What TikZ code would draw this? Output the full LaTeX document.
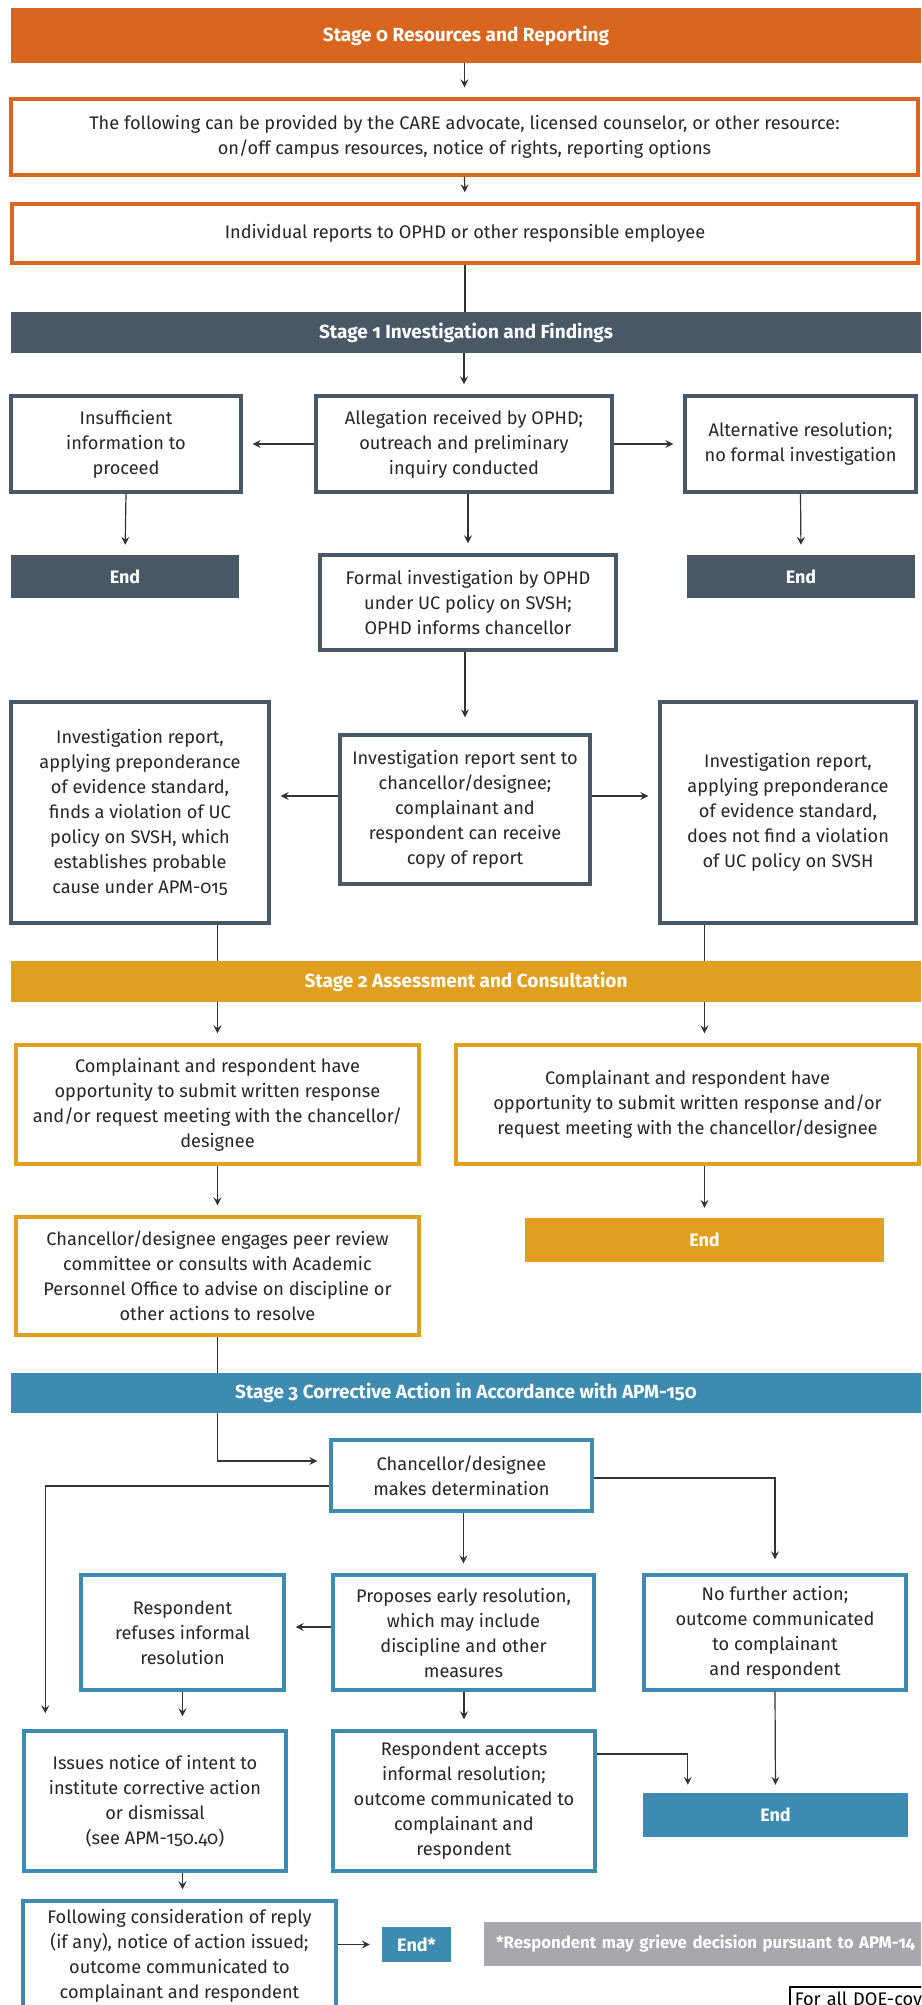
\documentclass[tikz,border=0pt]{standalone}
\usepackage{fontspec}
\setmainfont{Fira Sans}[Numbers=OldStyle]
\usetikzlibrary{arrows.meta,calc}
\definecolor{ucorange}{HTML}{D9661F}
\definecolor{ucslate}{HTML}{485866}
\definecolor{ucgold}{HTML}{E09F1E}
\definecolor{ucteal}{HTML}{3D8BB0}
\definecolor{ucgray}{HTML}{A7A8AC}
\begin{document}
\begin{tikzpicture}[x=1pt,y=-1pt,
	stagebar/.style={fill=#1,text=white,inner sep=0pt,minimum width=910pt,
		font=\bfseries\fontsize{19}{22}\selectfont},
	flowbox/.style={draw=#1,line width=3.4pt,fill=white,align=center,inner sep=3pt,
		font=\fontsize{18.2}{25}\selectfont,text=black!85},
	endbox/.style={fill=#1,text=white,inner sep=0pt,font=\bfseries\fontsize{18}{20}\selectfont},
	conn/.style={line width=1.2pt,draw=black!80},
	arr/.style={conn,-{Stealth[length=8pt,width=8pt,inset=3pt]},shorten >=10pt}]
	\useasboundingbox (0,0) rectangle (921,2005);
	\clip (0,0) rectangle (921,2005);
	% stage 0
	\node[stagebar=ucorange,minimum height=55pt] (stage0) at (466,35.5) {Stage 0 Resources and Reporting};
	\node[flowbox=ucorange,minimum width=907pt,minimum height=76pt] (care) at (464.5,137)
		{The following can be provided by the CARE advocate, licensed counselor, or other resource:\\on/off campus resources, notice of rights, reporting options};
	\node[flowbox=ucorange,minimum width=906pt,minimum height=59pt] (report) at (465,233.5)
		{Individual reports to OPHD or other responsible employee};
	% stage 1
	\node[stagebar=ucslate,minimum height=41pt] (stage1) at (466,332.5) {Stage 1 Investigation and Findings};
	\node[flowbox=ucslate,minimum width=230pt,minimum height=96pt] (insuff) at (126,444)
		{Insufficient\\information to\\proceed};
	\node[flowbox=ucslate,minimum width=296pt,minimum height=96pt] (alleg) at (464,444)
		{Allegation received by OPHD;\\outreach and preliminary\\inquiry conducted};
	\node[flowbox=ucslate,minimum width=231pt,minimum height=96pt] (altres) at (800.5,444)
		{Alternative resolution;\\no formal investigation};
	\node[endbox=ucslate,minimum width=228pt,minimum height=43pt] (endA) at (125,576.5) {End};
	\node[flowbox=ucslate,minimum width=296pt,minimum height=95pt] (formal) at (468,602.5)
		{Formal investigation by OPHD\\under UC policy on SVSH;\\OPHD informs chancellor};
	\node[endbox=ucslate,minimum width=228pt,minimum height=43pt] (endB) at (801,576.5) {End};
	\node[flowbox=ucslate,minimum width=258pt,minimum height=221pt] (findsv) at (140,812.5)
		{Investigation report,\\applying preponderance\\of evidence standard,\\finds a violation of UC\\policy on SVSH, which\\establishes probable\\cause under APM-015};
	\node[flowbox=ucslate,minimum width=250pt,minimum height=149pt] (sent) at (465,809.5)
		{Investigation report sent to\\chancellor/designee;\\complainant and\\respondent can receive\\copy of report};
	\node[flowbox=ucslate,minimum width=256pt,minimum height=221pt] (nofind) at (788,812.5)
		{Investigation report,\\applying preponderance\\of evidence standard,\\does not find a violation\\of UC policy on SVSH};
	% stage 2
	\node[stagebar=ucgold,minimum height=41pt] (stage2) at (466,981.5) {Stage 2 Assessment and Consultation};
	\node[flowbox=ucgold,minimum width=403pt,minimum height=119pt] (respL) at (217.5,1104.5)
		{Complainant and respondent have\\opportunity to submit written response\\and/or request meeting with the chancellor/\\designee};
	\node[flowbox=ucgold,minimum width=463pt,minimum height=119pt] (respR) at (687.5,1104.5)
		{Complainant and respondent have\\opportunity to submit written response and/or\\request meeting with the chancellor/designee};
	\node[flowbox=ucgold,minimum width=403pt,minimum height=118pt] (engage) at (217.5,1276)
		{Chancellor/designee engages peer review\\committee or consults with Academic\\Personnel Office to advise on discipline or\\other actions to resolve};
	\node[endbox=ucgold,minimum width=359pt,minimum height=44pt] (endC) at (704.5,1240) {End};
	% stage 3
	\node[stagebar=ucteal,minimum height=40pt] (stage3) at (466,1393) {Stage 3 Corrective Action in Accordance with APM-150};
	\node[flowbox=ucteal,minimum width=261pt,minimum height=71pt] (determ) at (461.5,1475.5)
		{Chancellor/designee\\makes determination};
	\node[flowbox=ucteal,minimum width=203pt,minimum height=115pt] (refuses) at (182.5,1632.5)
		{Respondent\\refuses informal\\resolution};
	\node[flowbox=ucteal,minimum width=261pt,minimum height=115pt] (proposes) at (463.5,1632.5)
		{Proposes early resolution,\\which may include\\discipline and other\\measures};
	\node[flowbox=ucteal,minimum width=262pt,minimum height=115pt] (nofurther) at (775,1632.5)
		{No further action;\\outcome communicated\\to complainant\\and respondent};
	\node[flowbox=ucteal,minimum width=262pt,minimum height=140pt] (notice) at (155,1801)
		{Issues notice of intent to\\institute corrective action\\or dismissal\\(see APM-150.40)};
	\node[flowbox=ucteal,minimum width=262pt,minimum height=140pt] (accepts) at (464,1801)
		{Respondent accepts\\informal resolution;\\outcome communicated to\\complainant and\\respondent};
	\node[endbox=ucteal,minimum width=265pt,minimum height=44pt] (endD) at (775.5,1815) {End};
	\node[flowbox=ucteal,minimum width=313pt,minimum height=109pt] (following) at (179.5,1955.5)
		{Following consideration of reply\\(if any), notice of action issued;\\outcome communicated to\\complainant and respondent};
	\node[endbox=ucteal,minimum width=69pt,minimum height=35pt] (endStar) at (416.5,1944.5) {End*};
	\node[fill=ucgray,text=white,anchor=west,minimum width=460pt,minimum height=44pt,
		inner xsep=12pt,font=\bfseries\fontsize{16.8}{20}\selectfont,align=left,text width=460pt] (note) at (484,1944)
		{*Respondent may grieve decision pursuant to APM-14};
	\node[draw=black,line width=1.5pt,anchor=north west,inner sep=5pt,minimum width=200pt,align=left,
		text width=190pt,font=\fontsize{18.2}{20}\selectfont] (doe) at (789,1986) {For all DOE-cov};
	% connectors
	\draw[arr] (care.north |- stage0.south) -- (care.north);
	\draw[arr] (care.south) -- (report.north);
	\draw[conn] (report.south) -- (report.south |- stage1.north);
	\draw[arr] (alleg.north |- stage1.south) -- (alleg.north);
	\draw[arr] (alleg.west) -- (insuff.east);
	\draw[arr] (alleg.east) -- (altres.west);
	\draw[arr] (insuff.south) -- (endA.north);
	\draw[arr] (alleg.south -| formal.north) -- (formal.north);
	\draw[arr] (altres.south) -- (endB.north);
	\draw[arr,shorten >=16pt] (formal.south -| sent.north) -- (sent.north);
	\draw[arr] ([yshift=13.5pt]sent.west) -- ([yshift=13.5pt]sent.west -| findsv.east);
	\draw[arr] ([yshift=13.5pt]sent.east) -- ([yshift=13.5pt]sent.east -| nofind.west);
	\draw[conn] (findsv.south -| respL.north) -- (stage2.north -| respL.north);
	\draw[conn] (nofind.south -| endC.north) -- (stage2.north -| endC.north);
	\draw[arr] (stage2.south -| respL.north) -- (respL.north);
	\draw[arr] (stage2.south -| endC.north) -- (respR.north -| endC.north);
	\draw[arr] (respL.south -| engage.north) -- (engage.north);
	\draw[arr] (respR.south -| endC.north) -- (endC.north);
	\draw[conn] (engage.south) -- (engage.south |- stage3.north);
	\draw[arr,shorten >=12pt] (stage3.south -| engage.south) |- ([yshift=14.5pt]determ.west);
	\draw[arr,shorten >=16pt] ([yshift=-10.5pt]determ.west) -| ([xshift=23pt]notice.north west);
	\draw[arr,shorten >=14pt] ([yshift=-2.5pt]determ.east) -| (nofurther.north);
	\draw[arr] (determ.south -| proposes.north) -- (proposes.north);
	\draw[arr] ([yshift=5.5pt]proposes.west) -- ([yshift=5.5pt]proposes.west -| refuses.east);
	\draw[arr,shorten >=13pt] (refuses.south) -- (refuses.south |- notice.north);
	\draw[arr] (proposes.south -| accepts.north) -- (accepts.north);
	\draw[arr,shorten >=8pt] (nofurther.south) -- (endD.north);
	\draw[arr,shorten >=8pt] ([yshift=47pt]accepts.east) -| ([xshift=45pt]endD.north west);
	\draw[arr] (notice.south -| refuses.south) -- (following.north -| refuses.south);
	\draw[arr,shorten >=12pt] (endStar.west -| following.east) -- (endStar.west);
\end{tikzpicture}
\end{document}
